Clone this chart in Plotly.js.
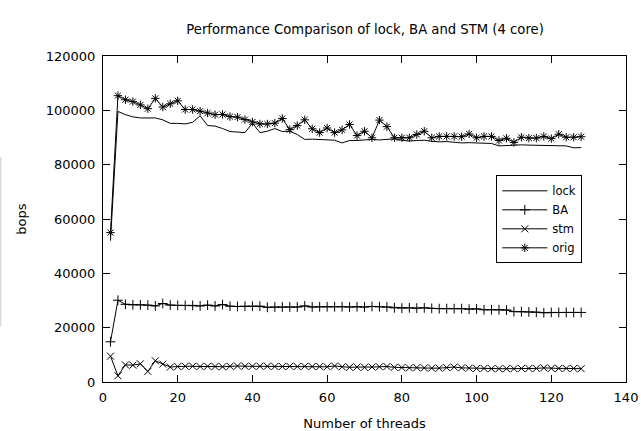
<!DOCTYPE html>
<html>
<head>
<meta charset="utf-8">
<script src="https://cdn.plot.ly/plotly-3.0.1.min.js"></script>
<style>html,body{margin:0;padding:0;background:#fff;}#chart{width:641px;height:431px;}</style>
</head>
<body>
<div id="chart"></div>
<script>
const threads = [2,4,6,8,10,12,14,16,18,20,22,24,26,28,30,32,34,36,38,40,42,44,46,48,50,52,54,56,58,60,62,64,66,68,70,72,74,76,78,80,82,84,86,88,90,92,94,96,98,100,102,104,106,108,110,112,114,116,118,120,122,124,126,128];

const lockVals = [52000,99600,98400,97600,97200,97100,97200,96500,95200,95200,95000,95600,98000,94400,94200,93300,92200,92000,91800,95300,91800,92300,93300,92200,92300,91100,89300,89400,89200,89200,89000,88000,88900,88900,89100,89300,89100,89200,89500,89000,88700,88900,89000,88600,88400,88500,88300,88000,88100,88000,87900,87800,86900,87100,87200,87300,87200,87100,87200,87000,86900,86900,86200,86300];

const baVals = [14800,30100,28600,28400,28400,28300,28000,28900,28300,28200,28200,28200,28000,28300,28000,28500,27900,27800,27900,27900,27900,27500,27600,27600,27600,27600,28000,27600,27700,27700,27700,27700,27600,27700,27600,27800,27700,27600,27300,27200,27300,27200,27300,27100,27000,27000,27000,27000,26800,26900,26600,26600,26600,26500,25900,25900,25800,25700,25500,25600,25600,25600,25600,25600];

const stmVals = [9500,2300,6300,6200,6700,3900,7800,6600,5500,5700,5800,5800,5700,5800,5700,5600,5800,5900,5800,5800,5800,5800,5700,5700,5800,5700,5800,5700,5700,5600,5900,5600,5400,5500,5400,5500,5600,5700,5400,5300,5200,5300,5200,5100,5100,5300,5500,5200,5100,5000,5000,4900,4900,4900,4900,5000,5000,5000,5200,5000,5000,5000,5000,4900];

const origVals = [55000,105400,103900,103200,102000,100600,104400,101200,102400,103500,100300,100300,99700,99000,98400,98500,97700,97500,96600,95700,95000,95000,95300,97000,92900,94400,96500,93200,91800,93500,91800,92800,94800,90700,92300,89900,96400,94000,89900,89900,89900,91100,92300,89900,90400,90400,90400,90300,91300,89900,90400,90400,88900,89700,88200,90100,89800,89800,90400,89600,91200,90100,90100,90300];

const seriesNames = ['lock','BA','stm','orig'];
const xTicks = [0,20,40,60,80,100,120,140];
const yTicks = [0,20000,40000,60000,80000,100000,120000];

const font = 'DejaVu Sans, sans-serif';
const lineStyle = {color:'#000', width:1};

function tr(name, y, symbol) {
  const t = {x: threads, y: y, name: name, type:'scatter',
    mode: symbol ? 'lines+markers' : 'lines', line: lineStyle};
  if (symbol) t.marker = {symbol: symbol, size: 7, color:'#000', line:{color:'#000', width:1}};
  return t;
}

const data = [
  tr(seriesNames[0], lockVals, null),
  tr(seriesNames[1], baVals, 'cross-thin-open'),
  tr(seriesNames[2], stmVals, 'x-thin-open'),
  tr(seriesNames[3], origVals, 'asterisk-open')
];

const axisCommon = {
  showgrid:false, zeroline:false, showline:true, linecolor:'#000', linewidth:1,
  mirror:'ticks', ticks:'inside', ticklen:7, tickcolor:'#000', tickwidth:1,
  tickfont:{family:font, size:13, color:'#000'}, automargin:false
};

const layout = {
  width:641, height:431,
  margin:{l:103, r:15, t:56, b:49},
  paper_bgcolor:'#fff', plot_bgcolor:'#fff',
  font:{family:font, color:'#000'},
  title:{text:'Performance Comparison of lock, BA and STM (4 core)',
    font:{family:font, size:13.2, color:'#000'}, x:0.5695, xanchor:'center', yref:'container', y:0.932, yanchor:'middle'},
  xaxis: Object.assign({}, axisCommon, {range:[0,140], tickvals:xTicks, ticktext:xTicks.map(String),
    ticklabelstandoff:3,
    title:{text:'Number of threads', font:{family:font, size:13, color:'#000'}, standoff:17}}),
  yaxis: Object.assign({}, axisCommon, {range:[0,120000], tickvals:yTicks, ticktext:yTicks.map(String),
    ticklabelstandoff:4,
    title:{text:'bops', font:{family:font, size:13, color:'#000'}, standoff:16}}),
  showlegend:true,
  legend:{x:0.752, y:0.634, xanchor:'left', yanchor:'top', bgcolor:'#fff', bordercolor:'#000', borderwidth:1,
    font:{family:font, size:11.5, color:'#000'}, tracegroupgap:0, itemwidth:45},
  shapes:[{type:'line', xref:'paper', yref:'paper', x0:-0.1955, x1:-0.1955, y0:0.17, y1:0.69,
    line:{color:'#ccc', width:1}}]
};

Plotly.newPlot('chart', data, layout, {staticPlot:true, displayModeBar:false});
</script>
</body>
</html>
